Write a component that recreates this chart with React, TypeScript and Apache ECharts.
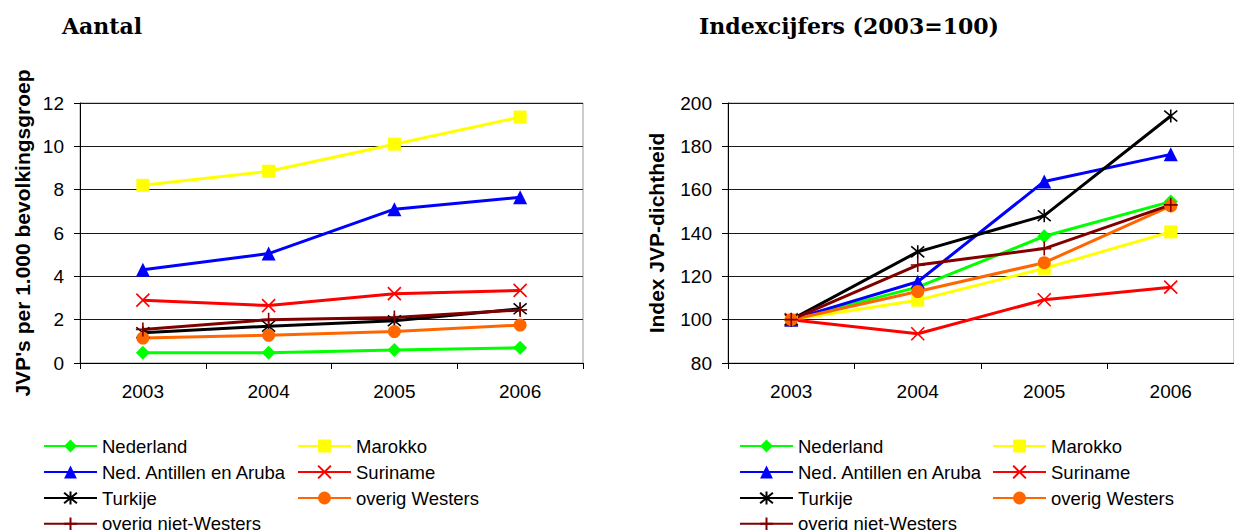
import React, { useEffect, useRef } from "react";
import * as echarts from "echarts";

const years = ["2003", "2004", "2005", "2006"];
const seriesNames = [
  "Nederland",
  "Marokko",
  "Ned. Antillen en Aruba",
  "Suriname",
  "Turkije",
  "overig Westers",
  "overig niet-Westers",
];

// Aantal (JVP's per 1.000 bevolkingsgroep)
const aantalNederland = [0.47, 0.47, 0.6, 0.7];
const aantalMarokko = [8.2, 8.85, 10.1, 11.35];
const aantalAntillen = [4.3, 5.05, 7.1, 7.65];
const aantalSuriname = [2.9, 2.65, 3.2, 3.35];
const aantalTurkije = [1.4, 1.7, 1.95, 2.5];
const aantalOverigWesters = [1.15, 1.28, 1.45, 1.75];
const aantalNietWesters = [1.55, 2.0, 2.1, 2.45];

// Indexcijfers (2003=100)
const indexNederland = [100, 115, 138.5, 154.5];
const indexMarokko = [100, 109, 123.7, 140.5];
const indexAntillen = [100, 117.5, 163.8, 176.3];
const indexSuriname = [100, 93.5, 109.2, 115];
const indexTurkije = [100, 131.3, 148, 194];
const indexOverigWesters = [100, 113, 126.3, 152.5];
const indexNietWesters = [100, 125.2, 132.8, 153];

const leftTicks = { min: 0, max: 12, interval: 2 };
const rightTicks = { min: 80, max: 200, interval: 20 };

const aantalData = [
  aantalNederland,
  aantalMarokko,
  aantalAntillen,
  aantalSuriname,
  aantalTurkije,
  aantalOverigWesters,
  aantalNietWesters,
];
const indexData = [
  indexNederland,
  indexMarokko,
  indexAntillen,
  indexSuriname,
  indexTurkije,
  indexOverigWesters,
  indexNietWesters,
];

const styles = [
  { color: "#00ff00", symbol: "diamond", size: 14, stroke: false },
  { color: "#ffff00", symbol: "rect", size: 13, stroke: false },
  { color: "#0000ff", symbol: "triangle", size: 14, stroke: false },
  { color: "#ff0000", symbol: "path://M0,0L10,10M10,0L0,10", size: 13, stroke: true },
  { color: "#000000", symbol: "path://M0,0L10,10M10,0L0,10M5,-1L5,11", size: 13, stroke: true },
  { color: "#ff6600", symbol: "circle", size: 13, stroke: false },
  { color: "#800000", symbol: "path://M5,0L5,12M0,6L10,6", size: 14, stroke: true },
];

const FONT = "Liberation Sans, Arial, sans-serif";

function makeSeries(data: number[][], axisIndex: number) {
  return data.map((vals, i) => {
    const s = styles[i];
    return {
      name: seriesNames[i],
      type: "line",
      xAxisIndex: axisIndex,
      yAxisIndex: axisIndex,
      data: vals,
      symbol: s.symbol,
      symbolSize: s.size,
      showSymbol: true,
      lineStyle: { color: s.color, width: 3 },
      itemStyle: s.stroke
        ? { color: s.color, borderColor: s.color, borderWidth: 1.6 }
        : { color: s.color, borderWidth: 0 },
      emphasis: { disabled: true },
    };
  });
}

function makeLegends(x1: number, x2: number) {
  const rows = [445.5, 471.5, 497.5, 523.3];
  return seriesNames.map((name, i) => ({
    data: [name],
    left: i % 2 === 0 ? x1 : x2,
    top: rows[Math.floor(i / 2)] - 9,
    padding: 0,
    itemWidth: 53,
    itemHeight: 16,
    itemGap: 5,
    selectedMode: false,
    textStyle: { fontFamily: FONT, fontSize: 18.5, color: "#000", padding: [0, 0, 0, 0] },
  }));
}

function xAxisCfg(gridIndex: number) {
  return {
    type: "category",
    gridIndex,
    data: years,
    boundaryGap: true,
    axisLine: { show: true, lineStyle: { color: "#000", width: 1 } },
    axisTick: { show: true, length: 6, inside: false, lineStyle: { color: "#000" } },
    axisLabel: { fontFamily: FONT, fontSize: 19, color: "#000", margin: 19 },
    splitLine: { show: false },
  };
}

function yAxisCfg(gridIndex: number, t: { min: number; max: number; interval: number }, name: string, nameGap: number) {
  return {
    type: "value",
    gridIndex,
    min: t.min,
    max: t.max,
    interval: t.interval,
    name,
    nameLocation: "middle",
    nameGap,
    nameTextStyle: { fontFamily: FONT, fontSize: 21, fontWeight: "bold", color: "#000" },
    axisLine: { show: true, lineStyle: { color: "#000", width: 1 } },
    axisTick: { show: true, length: 6, lineStyle: { color: "#000" } },
    axisLabel: { fontFamily: FONT, fontSize: 19, color: "#000", margin: 16 },
    splitLine: { show: true, lineStyle: { color: "#1a1a1a", width: 1 } },
  };
}

export default function App() {
  const ref = useRef<HTMLDivElement>(null);
  useEffect(() => {
    if (!ref.current) return;
    const chart = echarts.init(ref.current, null, { renderer: "svg" });
    const titleStyle = {
      fontFamily: "DejaVu Serif, serif",
      fontWeight: "bold",
      fontSize: 22,
      color: "#000",
    };
    chart.setOption({
      animation: false,
      backgroundColor: "#fff",
      title: [
        { text: "Aantal", left: 62, top: 15, padding: 0, textStyle: titleStyle },
        { text: "Indexcijfers (2003=100)", left: 699, top: 15, padding: 0, textStyle: titleStyle },
      ],
      grid: [
        { left: 80, top: 103, width: 503, height: 260, show: true, borderColor: "#999", borderWidth: 1, backgroundColor: "transparent" },
        { left: 728, top: 103, width: 518, height: 260, show: true, borderColor: "#999", borderWidth: 1, backgroundColor: "transparent" },
      ],
      xAxis: [xAxisCfg(0), xAxisCfg(1)],
      yAxis: [
        yAxisCfg(0, leftTicks, "JVP's per 1.000 bevolkingsgroep", 47),
        yAxisCfg(1, rightTicks, "Index JVP-dichtheid", 61),
      ],
      legend: [...makeLegends(43, 297), ...makeLegends(739, 992)],
      series: [...makeSeries(aantalData, 0), ...makeSeries(indexData, 1)],
    });
    return () => chart.dispose();
  }, []);
  return (
    <div
      ref={ref}
      style={{ position: "absolute", left: 0, top: 0, width: 1234, height: 530 }}
    />
  );
}
